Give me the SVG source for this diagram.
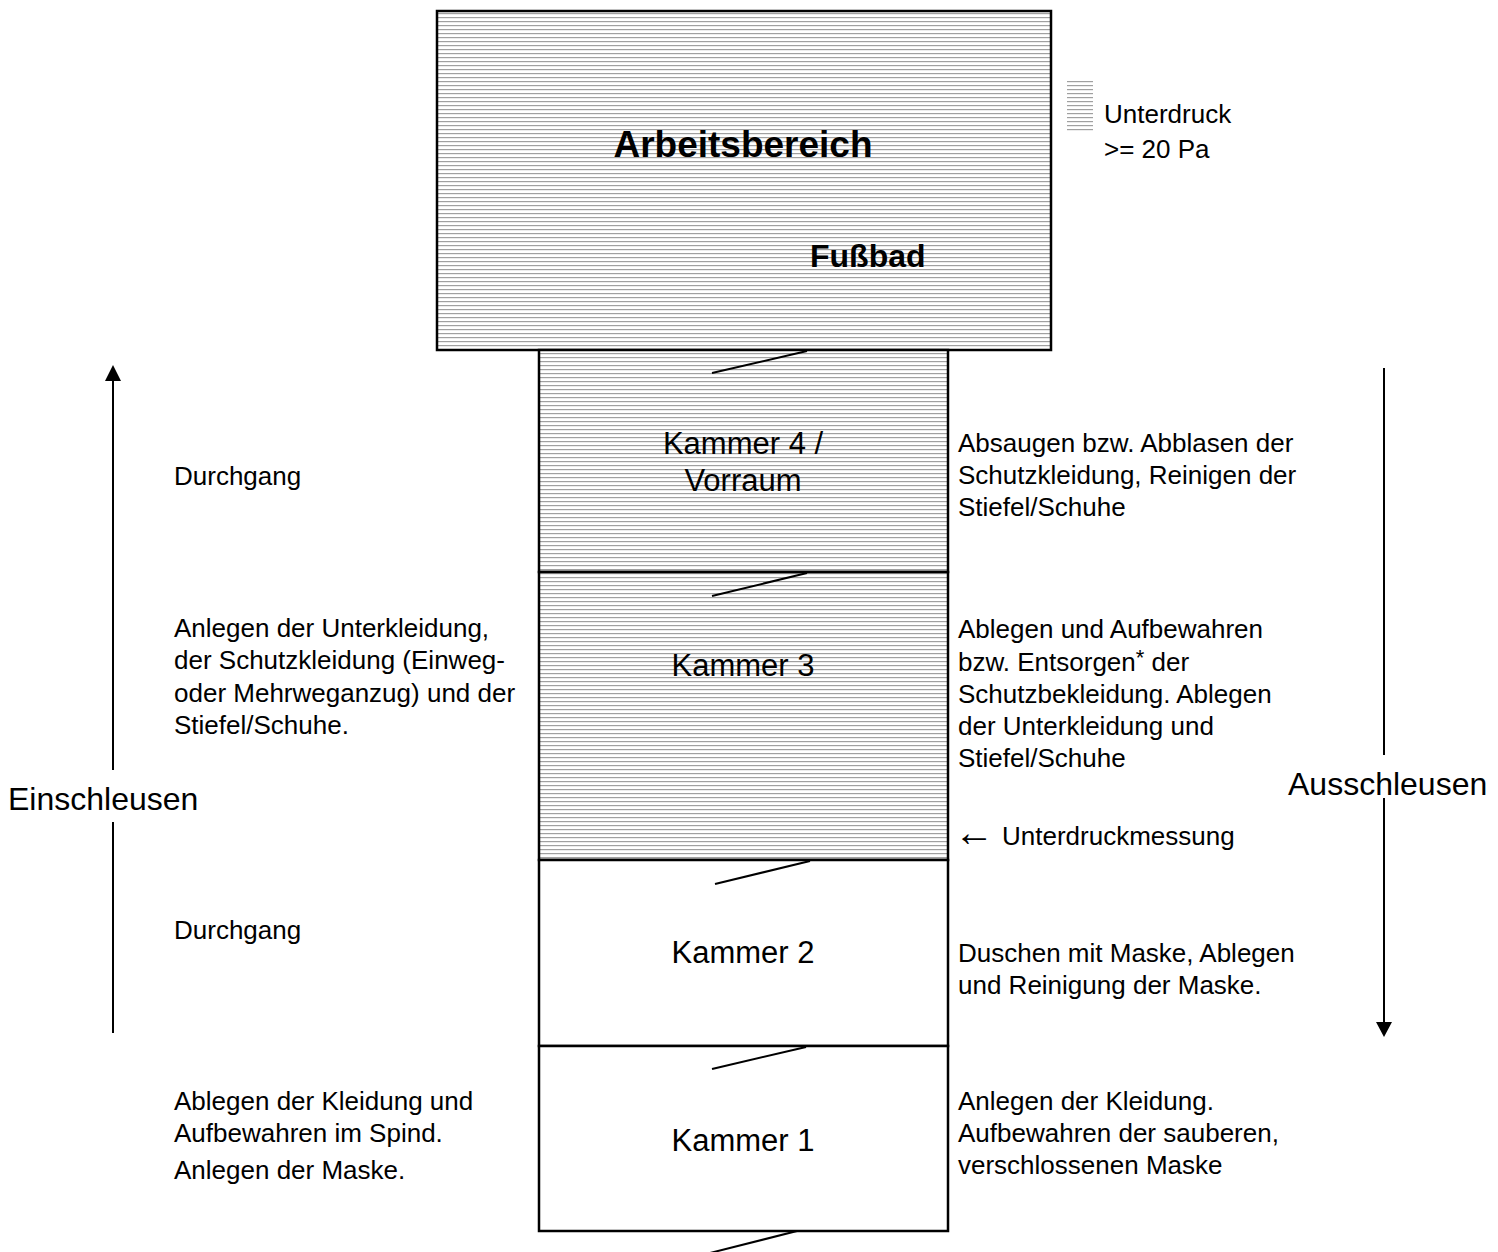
<svg xmlns="http://www.w3.org/2000/svg" width="1498" height="1252" viewBox="0 0 1498 1252">
<style>
text{font-family:"Liberation Sans",Arial,sans-serif;fill:#000}
.t{font-size:26px}
.k{font-size:31px;text-anchor:middle}
.big{font-size:32px}
.wall{stroke:#000;stroke-width:2.5}
.h{fill:url(#hatch)}
.w{fill:#fff}
.door{stroke:#000;stroke-width:2;fill:none}
.arr{stroke:#000;stroke-width:2;fill:none}
</style>
<defs>
<pattern id="hatch" patternUnits="userSpaceOnUse" x="0" y="0" width="8" height="4">
<rect x="0" y="0" width="8" height="4" fill="#fff"/>
<rect x="0" y="1" width="8" height="1.2" fill="#a0a0a0"/>
</pattern>
</defs>
<rect width="1498" height="1252" fill="#fff"/>

<g id="arbeitsbereich">
<rect x="437" y="11" width="614" height="339" class="wall h"/>
<text x="743" y="157" font-size="37" font-weight="bold" text-anchor="middle">Arbeitsbereich</text>
<text x="810" y="267" font-size="32" font-weight="bold">Fußbad</text>
</g>

<g id="legend">
<rect x="1067" y="80" width="26" height="53" class="h"/>
<text class="t" x="1104" y="123">Unterdruck</text>
<text class="t" x="1104" y="158">&gt;= 20 Pa</text>
</g>

<g id="kammer4">
<rect x="539" y="350" width="409" height="222" class="wall h"/>
<text class="k" x="743" y="454">Kammer 4 /</text>
<text class="k" x="743" y="491">Vorraum</text>
</g>
<g id="kammer3">
<rect x="539" y="572" width="409" height="288" class="wall h"/>
<text class="k" x="743" y="676">Kammer 3</text>
</g>
<g id="kammer2">
<rect x="539" y="860" width="409" height="186" class="wall w"/>
<text class="k" x="743" y="963">Kammer 2</text>
</g>
<g id="kammer1">
<rect x="539" y="1046" width="409" height="185" class="wall w"/>
<text class="k" x="743" y="1151">Kammer 1</text>
</g>

<g id="doors">
<line class="door" x1="712" y1="373" x2="807" y2="351"/>
<line class="door" x1="712" y1="596" x2="807" y2="573"/>
<line class="door" x1="715" y1="884" x2="810" y2="861"/>
<line class="door" x1="712" y1="1069" x2="806" y2="1047"/>
<line class="door" x1="710" y1="1253" x2="797" y2="1231"/>
</g>

<g id="connectors">
<line class="arr" x1="113" y1="378" x2="113" y2="770"/>
<line class="arr" x1="113" y1="822" x2="113" y2="1033"/>
<polygon points="113,365 105,381 121,381" fill="#000"/>
<line class="arr" x1="1384" y1="368" x2="1384" y2="755"/>
<line class="arr" x1="1384" y1="798" x2="1384" y2="1024"/>
<polygon points="1384,1037 1376,1022 1392,1022" fill="#000"/>
</g>

<g id="einschleusen">
<text class="big" x="8" y="810">Einschleusen</text>
</g>
<g id="ausschleusen">
<text class="big" x="1288" y="795">Ausschleusen</text>
</g>

<g id="left-texts">
<text class="t" x="174" y="485">Durchgang</text>
<text class="t" x="174" y="637">Anlegen der Unterkleidung,</text>
<text class="t" x="174" y="669">der Schutzkleidung (Einweg-</text>
<text class="t" x="174" y="702">oder Mehrweganzug) und der</text>
<text class="t" x="174" y="734">Stiefel/Schuhe.</text>
<text class="t" x="174" y="939">Durchgang</text>
<text class="t" x="174" y="1110">Ablegen der Kleidung und</text>
<text class="t" x="174" y="1142">Aufbewahren im Spind.</text>
<text class="t" x="174" y="1179">Anlegen der Maske.</text>
</g>

<g id="right-texts">
<text class="t" x="958" y="452">Absaugen bzw. Abblasen der</text>
<text class="t" x="958" y="484">Schutzkleidung, Reinigen der</text>
<text class="t" x="958" y="516">Stiefel/Schuhe</text>
<text class="t" x="958" y="638">Ablegen und Aufbewahren</text>
<text class="t" x="958" y="671">bzw. Entsorgen<tspan font-size="22" dy="-6">*</tspan><tspan dy="6"> der</tspan></text>
<text class="t" x="958" y="703">Schutzbekleidung. Ablegen</text>
<text class="t" x="958" y="735">der Unterkleidung und</text>
<text class="t" x="958" y="767">Stiefel/Schuhe</text>
<text x="954" y="846" font-size="40" font-family="'DejaVu Sans',sans-serif">←</text>
<text class="t" x="1002" y="845">Unterdruckmessung</text>
<text class="t" x="958" y="962">Duschen mit Maske, Ablegen</text>
<text class="t" x="958" y="994">und Reinigung der Maske.</text>
<text class="t" x="958" y="1110">Anlegen der Kleidung.</text>
<text class="t" x="958" y="1142">Aufbewahren der sauberen,</text>
<text class="t" x="958" y="1174">verschlossenen Maske</text>
</g>
</svg>
